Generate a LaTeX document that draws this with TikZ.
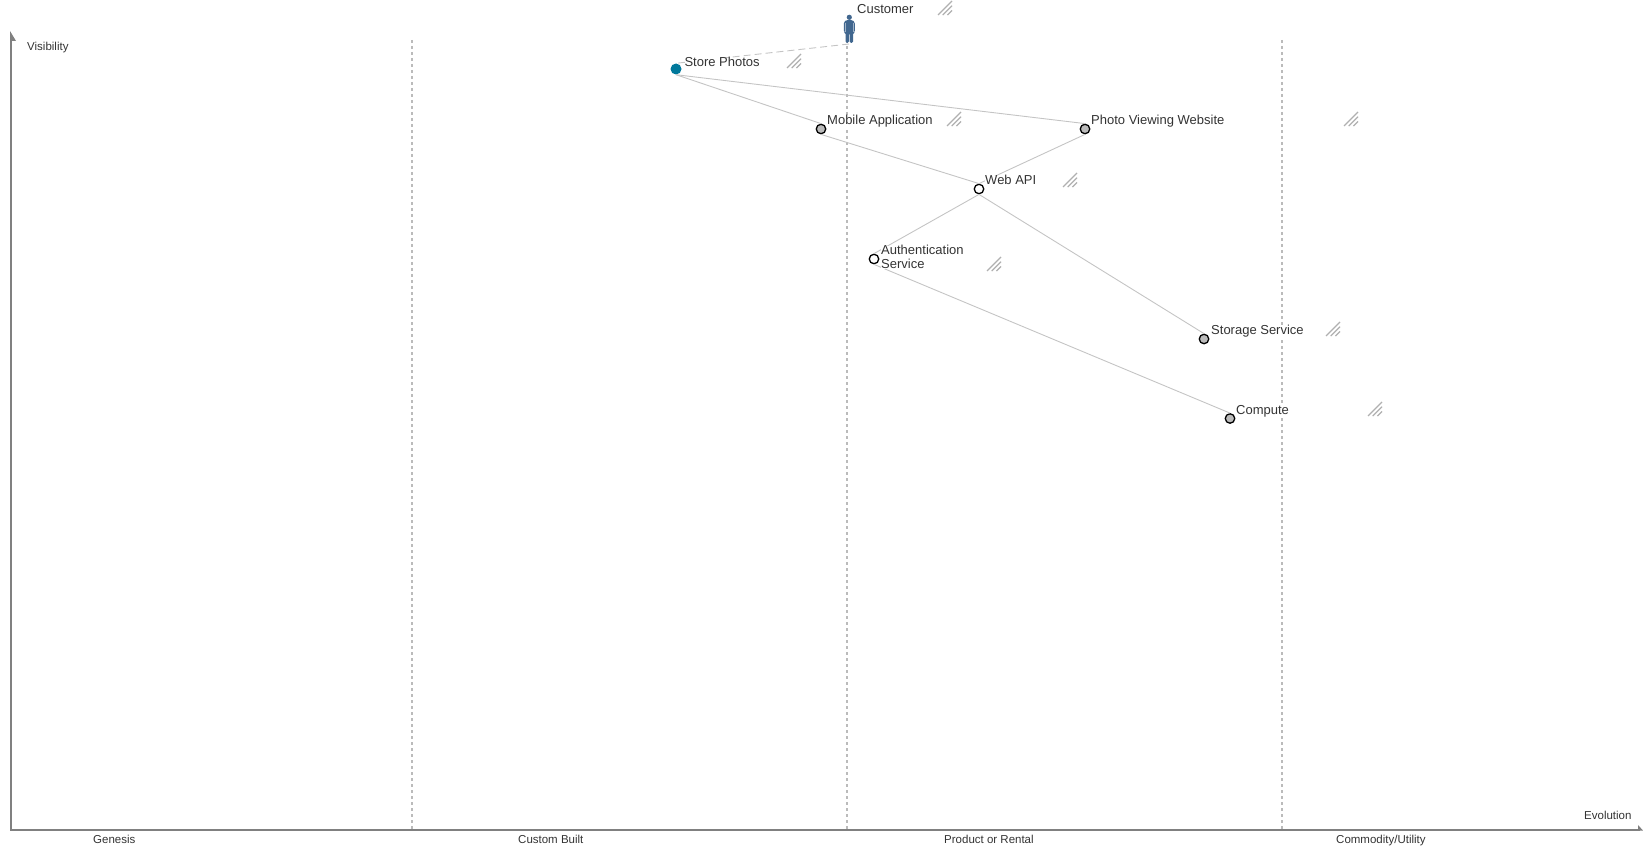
\documentclass[tikz,border=0pt]{standalone}
\usepackage{fontspec}
\setmainfont{Liberation Sans}
\definecolor{axisgray}{HTML}{808080}
\definecolor{linkgray}{HTML}{C4C4C4}
\definecolor{phasegray}{HTML}{BBBBBB}
\definecolor{hatchgray}{HTML}{B0B0B0}
\definecolor{inkgray}{HTML}{333333}
\definecolor{fillgray}{HTML}{BBBBBB}
\definecolor{storeblue}{HTML}{00789B}
\definecolor{userblue}{HTML}{41678F}

\begin{document}
\begin{tikzpicture}[x=1pt,y=-1pt,
comp/.style={circle,draw=black,line width=1.3pt,inner sep=0pt,minimum size=9.5pt},
need/.style={circle,fill=storeblue,inner sep=0pt,minimum size=11pt},
link/.style={draw=linkgray,line width=0.9pt},
phase/.style={draw=phasegray,line width=2pt,dash pattern=on 3pt off 3pt},
axis/.style={draw=axisgray,line width=2.2pt},
lbl/.style={anchor=base west,inner sep=0pt,fill=white,text=inkgray,align=left,font=\fontsize{13}{14}\selectfont},
small/.style={anchor=base west,inner sep=0pt,text=inkgray,font=\fontsize{11.5}{13}\selectfont},
hatch/.pic={%
\draw[hatchgray,line width=1.2pt] (0,14) -- (14,0) (4.7,14) -- (14,4.7) (9.4,14) -- (14,9.4);},
person/.pic={%
\fill[userblue] (0,-25.7) circle (2.6);
\fill[userblue,rounded corners=1.5pt] (-5.5,-10.5) -- (-5.5,-21) -- (-3,-23) -- (3,-23) -- (5.5,-21) -- (5.5,-10.5) -- (3.7,-10.5) -- (3.7,0) -- (0.4,0) -- (0.4,-10) -- (-0.4,-10) -- (-0.4,0) -- (-3.7,0) -- (-3.7,-10.5) -- cycle;
\draw[userblue!50!white,line width=0.4pt] (-3.7,-20) -- (-3.7,-11) (3.7,-20) -- (3.7,-11);}]
\useasboundingbox (0,0) rectangle (1643,850);

 % phase lines
 \foreach\X/\N in {412/a,847/b,1282/c}
 {\coordinate (top\N) at (\X,40);
  \coordinate (bot\N) at (\X,829);
  \draw[phase] (top\N) -- (bot\N);}

 % axes
 \coordinate (origin) at (11,830);
 \coordinate (vistop) at (11,36);
 \coordinate (evoend) at (1640,830);
 \draw[axis] (vistop) -- (origin) -- (evoend);
 \fill[axisgray] (10,31) -- (16,41) -- (10,41) -- cycle;
 \fill[axisgray] (1638,825) -- (1643,830.5) -- (1638,830.5) -- cycle;
 \node[small] (visibility) at (27,51) {Visibility};
 \node[small] (evolution) at (1584,819) {Evolution};
 \node[small] (genesis) at (93,843) {Genesis};
 \node[small] (custom) at (518,843) {Custom Built};
 \node[small] (product) at (944,843) {Product or Rental};
 \node[small] (commodity) at (1336,843) {Commodity/Utility};

 % components
 \node[need] (store) at (676,69) {};
 \node[comp,fill=fillgray] (mobile) at (821,129) {};
 \node[comp,fill=fillgray] (photo) at (1085,129) {};
 \node[comp,fill=white] (webapi) at (979,189) {};
 \node[comp,fill=white] (auth) at (874,259) {};
 \node[comp,fill=fillgray] (storage) at (1204,339) {};
 \node[comp,fill=fillgray] (compute) at (1230,418.5) {};

 % links
 \draw[link] (store.south) -- (mobile.north);
 \draw[link] (store.south) -- (photo.north);
 \draw[link] (mobile.south) -- (webapi.north);
 \draw[link] (photo.south) -- (webapi.north);
 \draw[link] (webapi.south) -- (auth.north);
 \draw[link] (webapi.south) -- (storage.north);
 \draw[link] (auth.south) -- (compute.north);

 % customer
 \pic at (849.3,43) {person};
 \coordinate (customer) at (849,44);
 \draw[link,dash pattern=on 7pt off 4pt] (customer) -- (store.north);

 % labels
 \node[lbl] (lcustomer) at (857,14) {Customer};
 \node[lbl] (lstore) at (684.3,67) {Store Photos};
 \node[lbl] (lmobile) at (827,125) {Mobile Application};
 \node[lbl] (lphoto) at (1091,125) {Photo Viewing Website};
 \node[lbl] (lwebapi) at (985,185) {Web API};
 \node[lbl] (lauth) at (881,269) {Authentication\\Service};
 \node[lbl] (lstorage) at (1211,334) {Storage Service};
 \node[lbl] (lcompute) at (1236,414) {Compute};

 % hatches
 \foreach\X/\Y in {938/1,787/54,947/112,1344/112,1063/173,987/257,1326/322,1368/402}
 {\pic at (\X,\Y) {hatch};}
 %
\end{tikzpicture}
\end{document}
